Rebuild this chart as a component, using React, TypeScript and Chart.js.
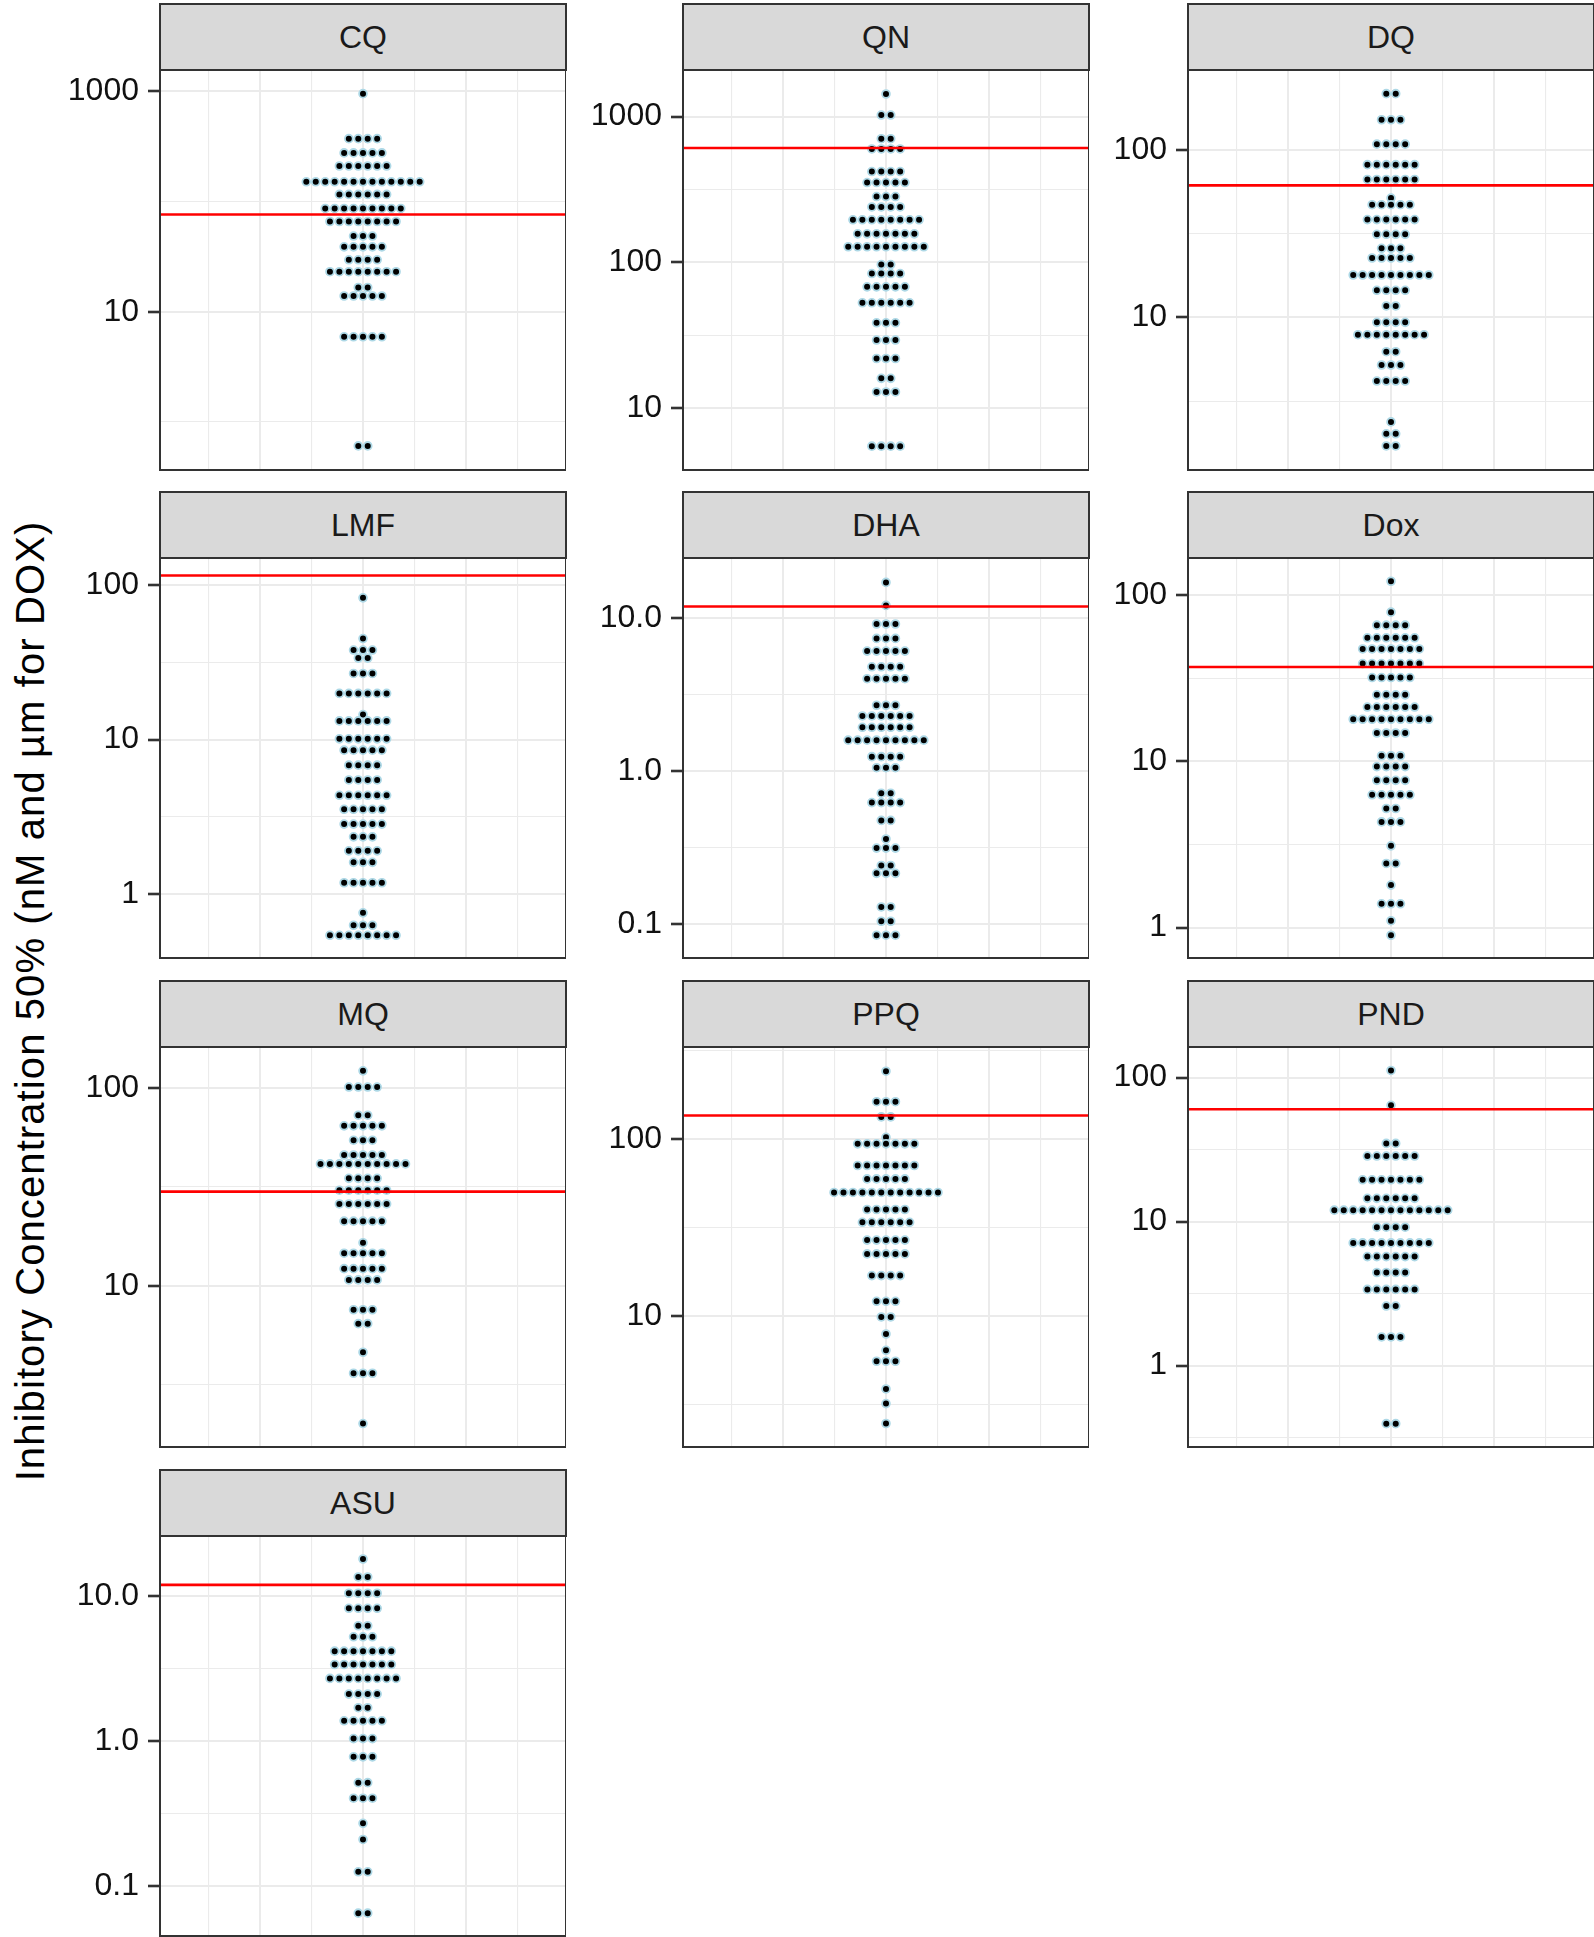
import React, { useEffect, useRef } from 'react';
import { Chart, registerables } from 'chart.js';

Chart.register(...registerables);
Chart.defaults.font.family = '"Liberation Sans", Arial, Helvetica, sans-serif';

// ---------------- DATA ----------------
const PANEL_NAMES = ['CQ', 'QN', 'DQ', 'LMF', 'DHA', 'Dox', 'MQ', 'PPQ', 'PND', 'ASU'];

// IC50 value of each dot row, and number of isolates stacked in that row
const CQ_IC50 = [952, 372, 276, 210, 151, 116, 86.5, 65.9, 48.6, 38.8, 29.6, 23.1, 16.6, 13.9, 5.93, 0.607];
const CQ_N = [1, 4, 5, 6, 13, 6, 9, 8, 3, 5, 4, 8, 2, 5, 5, 2];

const QN_IC50 = [1430, 1026, 706, 600, 420, 353, 283, 240, 196, 157, 128, 96.6, 83.8, 67.9, 52.8, 38.5, 29.3, 21.9, 16.0, 12.9, 5.48];
const QN_N = [1, 2, 2, 4, 4, 5, 3, 4, 8, 7, 9, 2, 4, 5, 6, 3, 3, 3, 2, 3, 4];

const DQ_IC50 = [216, 151, 108, 81.5, 66.5, 51.5, 47.0, 38.3, 31.3, 25.8, 22.6, 17.9, 14.5, 11.7, 9.34, 7.88, 6.24, 5.2, 4.17, 2.38, 2.02, 1.71];
const DQ_N = [2, 3, 4, 6, 6, 1, 5, 6, 4, 3, 5, 9, 4, 2, 4, 8, 2, 3, 4, 1, 2, 2];

const LMF_IC50 = [82.8, 45.1, 38.0, 33.7, 26.8, 19.9, 14.5, 13.2, 10.1, 8.53, 6.82, 5.47, 4.35, 3.53, 2.83, 2.34, 1.9, 1.6, 1.18, 0.753, 0.626, 0.539];
const LMF_N = [1, 1, 3, 2, 3, 6, 1, 6, 6, 5, 4, 4, 6, 5, 5, 3, 4, 3, 5, 1, 3, 8];

const DHA_IC50 = [17.1, 12.1, 9.14, 7.36, 6.08, 4.8, 4.01, 2.69, 2.29, 1.93, 1.59, 1.24, 1.05, 0.715, 0.621, 0.475, 0.359, 0.313, 0.241, 0.214, 0.129, 0.104, 0.0843];
const DHA_N = [1, 1, 3, 3, 5, 4, 5, 3, 6, 6, 9, 4, 3, 2, 4, 2, 1, 3, 2, 3, 2, 2, 3];

const DOX_IC50 = [121, 78.9, 65.9, 55.3, 47.4, 38.7, 31.9, 25.1, 21.2, 17.9, 14.8, 10.8, 9.29, 7.68, 6.29, 5.2, 4.32, 3.1, 2.43, 1.8, 1.39, 1.1, 0.899];
const DOX_N = [1, 1, 4, 6, 7, 7, 5, 4, 6, 9, 4, 3, 4, 4, 5, 2, 3, 1, 2, 1, 3, 1, 1];

const MQ_IC50 = [122, 101, 72.8, 64.3, 54.4, 45.8, 41.3, 34.9, 30.4, 25.9, 21.2, 16.5, 14.6, 12.2, 10.7, 7.56, 6.43, 4.61, 3.61, 2.01];
const MQ_N = [1, 4, 2, 5, 3, 5, 10, 4, 6, 6, 5, 1, 5, 5, 4, 3, 2, 1, 3, 1];

const PPQ_IC50 = [241, 162, 133, 102, 93.7, 70.7, 59.4, 49.8, 39.9, 33.8, 26.8, 22.4, 16.9, 12.1, 9.87, 7.91, 6.4, 5.55, 3.87, 3.2, 2.47];
const PPQ_N = [1, 3, 2, 1, 7, 7, 5, 12, 5, 6, 5, 5, 4, 3, 2, 1, 1, 3, 1, 1, 1];

const PND_IC50 = [112, 64.2, 34.9, 28.5, 19.5, 14.5, 12.0, 9.14, 7.11, 5.71, 4.43, 3.38, 2.59, 1.58, 0.395];
const PND_N = [1, 1, 2, 6, 7, 6, 13, 4, 9, 6, 4, 6, 2, 3, 2];

const ASU_IC50 = [18.1, 13.6, 10.5, 8.26, 6.26, 5.25, 4.18, 3.38, 2.71, 2.11, 1.7, 1.38, 1.04, 0.778, 0.516, 0.403, 0.27, 0.209, 0.125, 0.0647];
const ASU_N = [1, 2, 4, 4, 2, 3, 7, 7, 8, 4, 2, 5, 3, 3, 2, 3, 1, 1, 2, 2];

// resistance cut-off (red line) per panel
const CUTOFFS = [76.2, 610, 61.3, 115.6, 11.9, 36.9, 29.9, 135.5, 60.3, 12.0];

// y-axis limits and labelled breaks per panel
const Y_MIN = [0.367, 3.76, 1.229, 0.384, 0.0598, 0.656, 1.53, 1.82, 0.272, 0.045];
const Y_MAX = [1560, 2090, 299, 150, 24.7, 167, 161, 330, 163, 26.1];
const Y_BREAKS = [
  [1000, 10],
  [1000, 100, 10],
  [100, 10],
  [100, 10, 1],
  [10, 1, 0.1],
  [100, 10, 1],
  [100, 10],
  [100, 10],
  [100, 10, 1],
  [10, 1, 0.1],
];
const Y_DECIMALS = [0, 0, 0, 0, 1, 0, 0, 0, 0, 1];

const Y_TITLE = 'Inhibitory Concentration 50% (nM and µm for DOX)';

const SERIES_VALUES = [CQ_IC50, QN_IC50, DQ_IC50, LMF_IC50, DHA_IC50, DOX_IC50, MQ_IC50, PPQ_IC50, PND_IC50, ASU_IC50];
const SERIES_COUNTS = [CQ_N, QN_N, DQ_N, LMF_N, DHA_N, DOX_N, MQ_N, PPQ_N, PND_N, ASU_N];

// ---------------- LAYOUT ----------------
const ROW_TOPS = [70, 558, 1047, 1536];
const COL_LEFTS = [160, 683, 1188];
const PANEL_W = 406;
const PANEL_H = 400;
const STRIP_H = 66;
const AXIS_W = 100;
const PAD = 40;
const X_MIN = -3.944;
const X_MAX = 3.944;
const X_GRID = [-3, -2, -1, 0, 1, 2, 3];
const DOT_STEP = 0.1836;
const FONT = '"Liberation Sans", Arial, Helvetica, sans-serif';

function minorBreaks(breaks: number[], lo: number, hi: number) {
  const ratio = breaks.length > 1 ? breaks[0] / breaks[1] : 10;
  const out: number[] = [];
  const half = Math.sqrt(ratio);
  for (let j = -1; j < breaks.length; j++) {
    const v = (breaks[0] / Math.pow(ratio, j)) / half;
    if (v >= lo && v <= hi) out.push(v);
  }
  return out;
}

function dotPoints(values: number[], counts: number[]) {
  const pts: { x: number; y: number }[] = [];
  values.forEach((v, r) => {
    const n = counts[r];
    for (let i = 0; i < n; i++) pts.push({ x: (i - (n - 1) / 2) * DOT_STEP, y: v });
  });
  return pts;
}

const panelBorder = {
  id: 'panelBorder',
  afterDraw(chart: any) {
    const { ctx, chartArea: a } = chart;
    ctx.save();
    ctx.strokeStyle = '#333333';
    ctx.lineWidth = 2;
    ctx.strokeRect(a.left, a.top, a.right - a.left, a.bottom - a.top);
    ctx.restore();
  },
};

function Panel({ idx }: { idx: number }) {
  const ref = useRef<HTMLCanvasElement>(null);
  const row = Math.floor(idx / 3);
  const col = idx % 3;
  const left = COL_LEFTS[col];
  const top = ROW_TOPS[row];

  useEffect(() => {
    if (!ref.current) return;
    const majors = Y_BREAKS[idx];
    const lo = Y_MIN[idx];
    const hi = Y_MAX[idx];
    const minors = minorBreaks(majors, lo, hi);
    const isMajor = (v: number) => majors.some((m) => Math.abs(m - v) / m < 1e-6);
    const allTicks = [...majors.filter((v) => v >= lo && v <= hi), ...minors].sort((a, b) => b - a);

    const chart = new Chart(ref.current, {
      type: 'scatter',
      data: {
        datasets: [
          {
            data: [
              { x: X_MIN, y: CUTOFFS[idx] },
              { x: X_MAX, y: CUTOFFS[idx] },
            ],
            showLine: true,
            borderColor: '#FF0000',
            borderWidth: 2.6,
            pointRadius: 0,
            order: 0,
          } as any,
          {
            data: dotPoints(SERIES_VALUES[idx], SERIES_COUNTS[idx]),
            pointRadius: 3.9,
            pointBorderWidth: 1.8,
            pointBackgroundColor: '#000000',
            pointBorderColor: '#ADD8E6',
            order: 1,
          } as any,
        ],
      },
      options: {
        responsive: false,
        animation: false,
        devicePixelRatio: 1,
        layout: { autoPadding: false, padding: { top: PAD, bottom: PAD, left: 0, right: 0 } },
        plugins: { legend: { display: false }, tooltip: { enabled: false } },
        scales: {
          x: {
            type: 'linear',
            min: X_MIN,
            max: X_MAX,
            afterBuildTicks: (s: any) => {
              s.ticks = X_GRID.map((v) => ({ value: v }));
            },
            afterFit: (s: any) => {
              s.height = 0;
            },
            ticks: { display: false },
            border: { display: false },
            grid: {
              color: '#EBEBEB',
              drawTicks: false,
              lineWidth: (c: any) => (c.tick && c.tick.value % 2 === 0 ? 2 : 1.1),
            },
          },
          y: {
            type: 'logarithmic',
            min: lo,
            max: hi,
            afterBuildTicks: (s: any) => {
              s.ticks = allTicks.map((v) => ({ value: v }));
            },
            afterFit: (s: any) => {
              s.width = AXIS_W;
            },
            border: { display: false },
            ticks: {
              autoSkip: false,
              padding: 9,
              color: '#111111',
              font: { size: 32, family: FONT },
              callback: (v: any) => (isMajor(Number(v)) ? Number(v).toFixed(Y_DECIMALS[idx]) : ''),
            },
            grid: {
              color: '#EBEBEB',
              lineWidth: (c: any) => (c.tick && isMajor(c.tick.value) ? 2 : 1.1),
              drawTicks: true,
              tickLength: 12,
              tickWidth: 2.6,
              tickColor: (c: any) => (c.tick && isMajor(c.tick.value) ? '#333333' : 'rgba(0,0,0,0)'),
            },
          },
        },
      } as any,
      plugins: [panelBorder],
    });
    return () => chart.destroy();
  }, [idx]);

  return (
    <>
      <div
        style={{
          position: 'absolute',
          left: left - 1,
          top: top - STRIP_H - 1,
          width: PANEL_W + 2,
          height: STRIP_H + 2,
          boxSizing: 'border-box',
          border: '2px solid #333333',
          background: '#D9D9D9',
          display: 'flex',
          alignItems: 'center',
          justifyContent: 'center',
          fontFamily: FONT,
          fontSize: 32,
          color: '#1A1A1A',
        }}
      >
        {PANEL_NAMES[idx]}
      </div>
      <canvas
        ref={ref}
        width={AXIS_W + PANEL_W}
        height={PANEL_H + 2 * PAD}
        style={{
          position: 'absolute',
          left: left - AXIS_W,
          top: top - PAD,
          width: AXIS_W + PANEL_W,
          height: PANEL_H + 2 * PAD,
        }}
      />
    </>
  );
}

export default function App() {
  return (
    <div
      style={{
        position: 'absolute',
        left: 0,
        top: 0,
        width: 1594,
        height: 1937,
        background: '#FFFFFF',
        overflow: 'hidden',
      }}
    >
      <div
        style={{
          position: 'absolute',
          left: 30 - 560,
          top: 1001 - 23,
          width: 1120,
          height: 46,
          lineHeight: '46px',
          textAlign: 'center',
          whiteSpace: 'nowrap',
          fontFamily: FONT,
          fontSize: 40,
          letterSpacing: '1.1px',
          color: '#000000',
          transform: 'rotate(-90deg)',
          transformOrigin: 'center center',
        }}
      >
        {Y_TITLE}
      </div>
      {PANEL_NAMES.map((_, i) => (
        <Panel key={i} idx={i} />
      ))}
    </div>
  );
}
